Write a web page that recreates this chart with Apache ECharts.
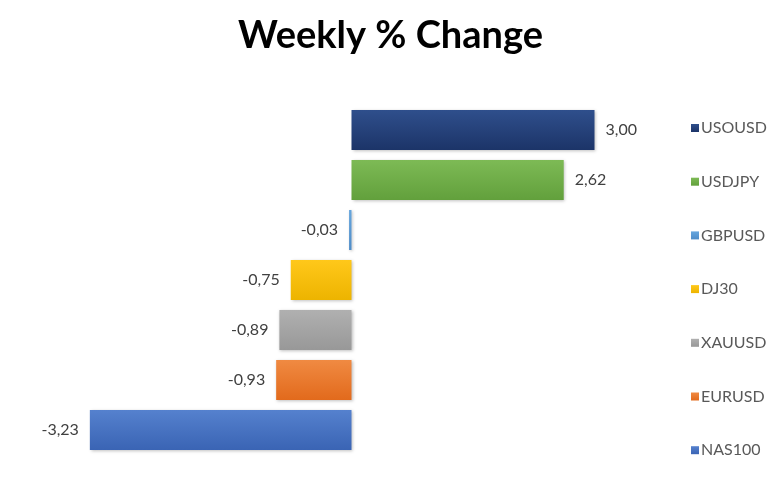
<!DOCTYPE html>
<html><head><meta charset="utf-8">
<script src="https://cdn.jsdelivr.net/npm/echarts@6/dist/echarts.min.js"></script>
<style>html,body{margin:0;padding:0;background:#fff}#c{width:781px;height:480px}</style>
</head><body><div id="c"></div>
<script>
const categories = ['USOUSD','USDJPY','GBPUSD','DJ30','XAUUSD','EURUSD','NAS100'];
const values = [3.00, 2.62, -0.03, -0.75, -0.89, -0.93, -3.23];
const colorsTop = ['#2F4F8C','#7DBA55','#66A6DE','#FFC81A','#B0B0B0','#F08A42','#5581CE'];
const colorsBottom = ['#1C3468','#62A03C','#4E8CC8','#EDB400','#989898','#E26A1C','#3A64B4'];
const legendColors = ['#203864','#70AD47','#5B9BD5','#FFC000','#A5A5A5','#ED7D31','#4472C4'];

const series = categories.map((name, i) => ({
  name: name,
  type: 'bar',
  stack: 'all',
  barCategoryGap: '20%',
  data: categories.map((c, j) => j === i ? values[i] : '-'),
  itemStyle: {
    color: new echarts.graphic.LinearGradient(0, 0, 0, 1, [
      {offset: 0, color: colorsTop[i]}, {offset: 1, color: colorsBottom[i]}
    ]),
    shadowColor: 'rgba(0,0,0,0.25)', shadowBlur: 3, shadowOffsetX: 1, shadowOffsetY: 1
  },
  label: {
    show: true,
    position: values[i] >= 0 ? 'right' : 'left',
    distance: 11,
    color: '#404040',
    fontFamily: 'Lato',
    fontSize: 16,
    formatter: p => p.value.toFixed(2).replace('.', ',')
  }
}));

const chart = echarts.init(document.getElementById('c'));
chart.setOption({
  animation: false,
  color: legendColors,
  title: {
    text: 'Weekly % Change', left: 'center', top: 12,
    textStyle: {fontFamily: 'Lato', fontWeight: 'bold', fontSize: 38, color: '#000'}
  },
  legend: {
    orient: 'vertical', left: 686, top: 115, itemGap: 37.7,
    itemWidth: 8, itemHeight: 8, icon: 'rect',
    data: categories,
    textStyle: {fontFamily: 'Lato', fontSize: 16, lineHeight: 16, color: '#595959', padding: [0,0,0,-3]}
  },
  grid: {left: 68, width: 567, top: 105, height: 350},
  xAxis: {
    type: 'value', min: -3.5, max: 3.5,
    show: false
  },
  yAxis: {
    type: 'category', data: categories, inverse: true, show: false
  },
  series: series
});
</script></body></html>
